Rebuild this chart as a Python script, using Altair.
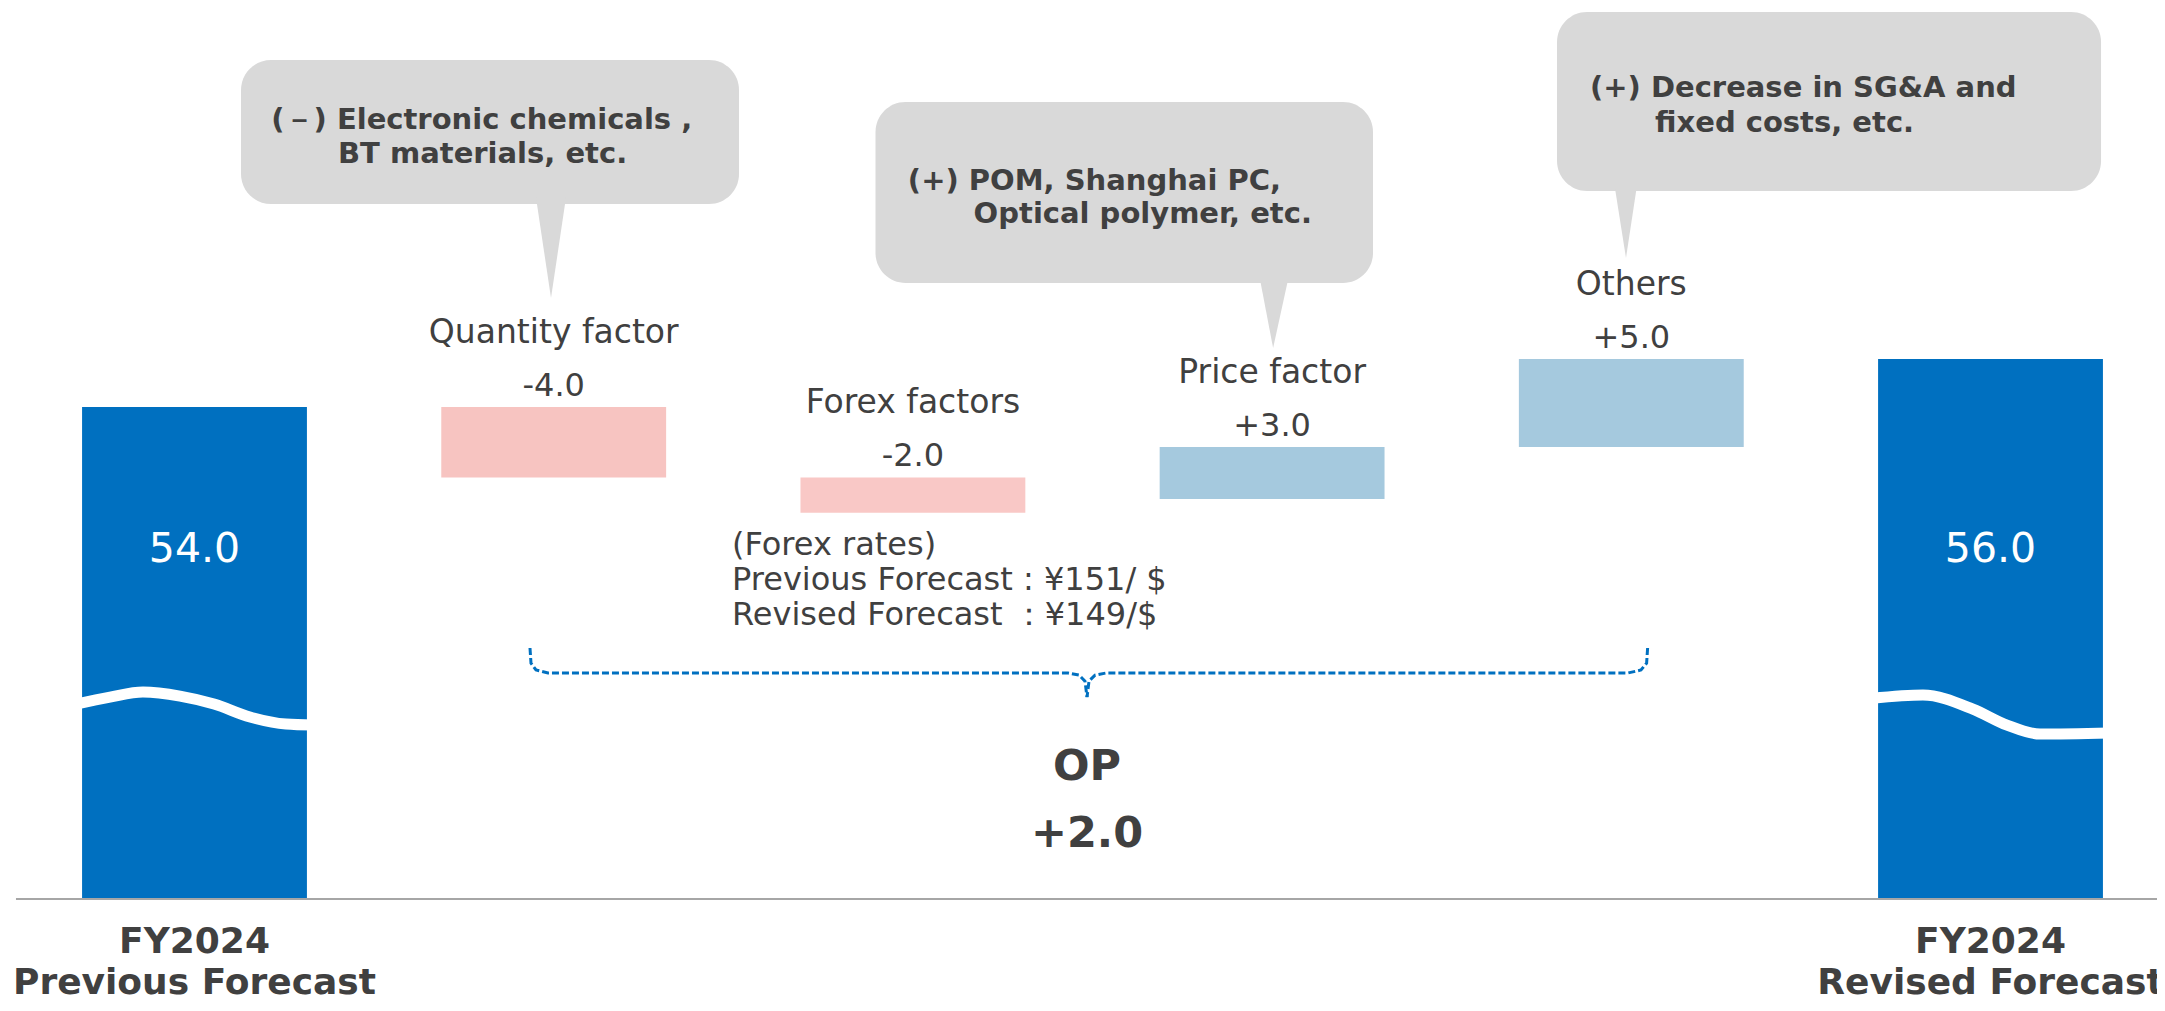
import altair as alt
import pandas as pd

FONT = "DejaVu Sans"
TEXT = "#404040"
BLUE = "#0070C0"

# ---- data -------------------------------------------------------------
categories = ["FY2024 Previous Forecast", "Quantity factor", "Forex factors",
              "Price factor", "Others", "FY2024 Revised Forecast"]
cat_index = [0, 1, 2, 3, 4, 5]
values = [54.0, -4.0, -2.0, 3.0, 5.0, 56.0]
value_labels = ["54.0", "-4.0", "-2.0", "+3.0", "+5.0", "56.0"]
# bar extents as drawn (axis is broken; totals start at the axis break)
bar_low = [26.05, 50.0, 48.0, 48.77, 51.73, 26.05]
bar_high = [54.0, 54.0, 50.0, 51.73, 56.73, 56.73]
bar_colors = [BLUE, "#F7C4C1", "#F9C8C6", "#A5C9DE", "#A5C9DE", BLUE]
bar_half = 0.313

total_label_y = [45.9, 45.9]
axis_line_x = [-0.497, 5.47]
axis_line_y = 26.05

bottom_line1 = ["FY2024", "FY2024"]
bottom_line2 = ["Previous Forecast", "Revised Forecast"]
bottom_y1 = 22.98
bottom_y2 = 20.65

# break waves on the two total bars
wave_id = ["L"] * 8 + ["R"] * 6
wave_x = [-0.33, -0.2352, -0.1434, -0.0404, 0.0543, 0.1545, 0.2547, 0.33,
          4.67, 4.812, 4.951, 5.046, 5.138, 5.33]
wave_y = [37.12, 37.52, 37.81, 37.58, 37.13, 36.39, 35.99, 35.93,
          37.45, 37.64, 36.84, 35.93, 35.42, 35.48]

# call-out boxes
box_x1 = [0.1295, 1.8959, 3.7932]
box_x2 = [1.5159, 3.2809, 5.3077]
box_top = [73.72, 71.33, 76.44]
box_bottom = [65.53, 61.05, 66.27]
ptr_left = [0.9507, 2.9649, 3.9532]
ptr_tip = [0.9925, 3.0028, 3.9852]
ptr_right = [1.0342, 3.0462, 4.0159]
ptr_base = [65.9, 61.4, 66.6]
ptr_tip_y = [60.19, 57.35, 62.47]

note_text = ["(－) Electronic chemicals ,", "BT materials, etc.",
             "(+) POM, Shanghai PC,", "Optical polymer, etc.",
             "(+) Decrease in SG&A and", "fixed costs, etc."]
note_x = [0.2138, 0.3995, 1.986, 2.169, 3.885, 4.066]
note_y = [69.80, 67.86, 66.33, 64.45, 71.61, 69.63]

forex_text = ["(Forex rates)", "Previous Forecast : ¥151/ $", "Revised Forecast  ：¥149/$"]
forex_x = 1.4964
forex_y = [45.59, 43.60, 41.61]

# dashed brace
brace_part = ["a"] * 8 + ["b"] * 8
brace_order = list(range(8)) + list(range(8))
brace_x = [0.934, 0.9368, 0.9507, 0.9842, 2.4318, 2.4624, 2.4791, 2.4847,
           4.0454, 4.0426, 4.027, 3.9908, 2.5376, 2.507, 2.4903, 2.4847]
brace_y = [40.31, 39.45, 39.06, 38.89, 38.89, 38.77, 38.43, 37.52,
           40.31, 39.45, 39.06, 38.89, 38.89, 38.77, 38.43, 37.52]

op_text = ["OP", "+2.0"]
op_x = 2.4847
op_y = [32.81, 29.0]

# ---- scales -------------------------------------------------------------
xs = alt.Scale(domain=[-0.5192, 5.4635], nice=False, zero=False)
ys = alt.Scale(domain=[26.05, 76.67], nice=False, zero=False)


def X(f):
    return alt.X(f, type="quantitative", scale=xs, axis=None)


def Y(f):
    return alt.Y(f, type="quantitative", scale=ys, axis=None)


bars = pd.DataFrame({"cat": categories, "i": cat_index, "lo": bar_low, "hi": bar_high,
                     "color": bar_colors, "label": value_labels})
bars["x1"] = bars["i"] - bar_half
bars["x2"] = bars["i"] + bar_half

bar_layer = alt.Chart(bars).mark_rect().encode(
    x=X("x1"), x2=alt.X2("x2"), y=Y("lo"), y2=alt.Y2("hi"),
    color=alt.Color("color:N", scale=None))

axis_df = pd.DataFrame({"x1": [axis_line_x[0]], "x2": [axis_line_x[1]], "y": [axis_line_y]})
axis_layer = alt.Chart(axis_df).mark_rule(color="#A6A6A6", strokeWidth=2).encode(
    x=X("x1"), x2=alt.X2("x2"), y=Y("y"))

wave_df = pd.DataFrame({"id": wave_id, "x": wave_x, "y": wave_y,
                        "o": list(range(len(wave_x)))})
wave_layer = alt.Chart(wave_df).mark_line(color="white", strokeWidth=11,
                                          interpolate="monotone", clip=False).encode(
    x=X("x"), y=Y("y"), detail="id:N", order="o:Q")

factors = bars.iloc[1:5]
cat_label_layer = alt.Chart(factors).mark_text(
    font=FONT, fontSize=33, color=TEXT, baseline="alphabetic", dy=-64).encode(
    x=X("i"), y=Y("hi"), text="cat:N")
val_label_layer = alt.Chart(factors).mark_text(
    font=FONT, fontSize=32, color=TEXT, baseline="alphabetic", dy=-11).encode(
    x=X("i"), y=Y("hi"), text="label:N")

tot = pd.DataFrame({"i": [0, 5], "y": total_label_y, "label": [value_labels[0], value_labels[5]]})
tot_layer = alt.Chart(tot).mark_text(
    font=FONT, fontSize=41, color="white", baseline="middle").encode(
    x=X("i"), y=Y("y"), text="label:N")

bot = pd.DataFrame({"i": [0, 0, 5, 5],
                    "y": [bottom_y1, bottom_y2, bottom_y1, bottom_y2],
                    "t": [bottom_line1[0], bottom_line2[0], bottom_line1[1], bottom_line2[1]]})
bot_layer = alt.Chart(bot).mark_text(
    font=FONT, fontSize=36, fontWeight="bold", color=TEXT, baseline="alphabetic").encode(
    x=X("i"), y=Y("y"), text="t:N")

box_df = pd.DataFrame({"x1": box_x1, "x2": box_x2, "y1": box_bottom, "y2": box_top})
box_layer = alt.Chart(box_df).mark_rect(color="#D9D9D9", cornerRadius=30).encode(
    x=X("x1"), x2=alt.X2("x2"), y=Y("y1"), y2=alt.Y2("y2"))

ptr_rows = []
for k in range(3):
    ptr_rows.append({"id": k, "x": ptr_left[k], "y": ptr_base[k], "y2": ptr_base[k]})
    ptr_rows.append({"id": k, "x": ptr_tip[k], "y": ptr_tip_y[k], "y2": ptr_base[k]})
    ptr_rows.append({"id": k, "x": ptr_right[k], "y": ptr_base[k], "y2": ptr_base[k]})
ptr_df = pd.DataFrame(ptr_rows)
ptr_layer = alt.Chart(ptr_df).mark_area(color="#D9D9D9", interpolate="linear").encode(
    x=X("x"), y=Y("y"), y2=alt.Y2("y2"), detail="id:N")

note_df = pd.DataFrame({"x": note_x, "y": note_y, "t": note_text})
note_layer = alt.Chart(note_df).mark_text(
    font=FONT, fontSize=29, fontWeight="bold", color=TEXT, align="left",
    baseline="alphabetic").encode(x=X("x"), y=Y("y"), text="t:N")

forex_df = pd.DataFrame({"x": [forex_x] * 3, "y": forex_y, "t": forex_text})
forex_layer = alt.Chart(forex_df).mark_text(
    font=FONT, fontSize=32, color=TEXT, align="left", baseline="alphabetic").encode(
    x=X("x"), y=Y("y"), text="t:N")

brace_df = pd.DataFrame({"p": brace_part, "o": brace_order, "x": brace_x, "y": brace_y})
brace_layer = alt.Chart(brace_df).mark_line(
    color=BLUE, strokeWidth=3, strokeDash=[7, 3]).encode(
    x=X("x"), y=Y("y"), detail="p:N", order="o:Q")

op_df = pd.DataFrame({"x": [op_x] * 2, "y": op_y, "t": op_text})
op_layer = alt.Chart(op_df).mark_text(
    font=FONT, fontSize=43, fontWeight="bold", color=TEXT, baseline="alphabetic").encode(
    x=X("x"), y=Y("y"), text="t:N")

chart = alt.layer(
    box_layer, ptr_layer, bar_layer, wave_layer, axis_layer, brace_layer,
    cat_label_layer, val_label_layer, tot_layer, bot_layer, note_layer,
    forex_layer, op_layer
).properties(
    width=2149, height=891,
    padding={"left": 0, "top": 0, "right": 0, "bottom": 104},
    autosize=alt.AutoSizeParams(type="none"),
).configure_view(stroke=None)

chart.save("out.html", embed_options={"renderer": "svg", "actions": False})
